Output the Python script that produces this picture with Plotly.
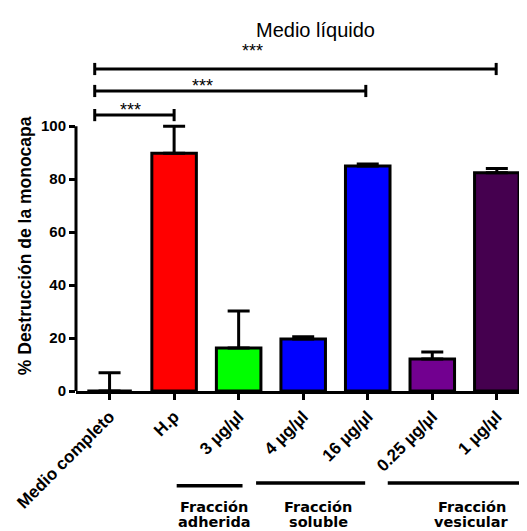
import plotly.graph_objects as go

categories = ["Medio completo", "H.p", "3 µg/µl", "4 µg/µl", "16 µg/µl", "0.25 µg/µl", "1 µg/µl"]
values = [0, 89.8, 16.2, 19.6, 85.0, 12.1, 82.4]
errors = [6.9, 10.2, 14.0, 0.9, 0.7, 2.6, 1.6]
colors = ["#FFFFFF", "#FF0000", "#00FF00", "#0000FF", "#0000FF", "#720090", "#45004F"]

# significance brackets: (start position, end position, height)
brackets = [(-0.23, 1.0, 104.2), (-0.23, 3.97, 113.3), (-0.23, 5.99, 121.6)]
star_x = [0.33, 1.44, 2.22]
star_shift = [-7, -7, 6]

group_line1 = ["Fracción", "Fracción", "Fracción"]
group_line2 = ["adherida", "soluble", "vesicular"]
group_spans = [(1.04, 2.06, -0.286), (2.27, 3.96, -0.278), (4.31, 6.45, -0.278)]
group_centers = [1.62, 3.23, 5.61]

FONT = "Arial, Liberation Sans, sans-serif"

fig = go.Figure()
fig.add_trace(go.Bar(
    x=list(range(len(categories))), y=values,
    width=0.69,
    marker=dict(color=colors, line=dict(color="black", width=3)),
    error_y=dict(type="data", array=errors, arrayminus=[0] * len(errors), symmetric=False,
                 thickness=3, width=11, color="black"),
))

shapes = []
shapes.append(dict(type="line", xref="paper", yref="y", x0=0, x1=0, y0=0, y1=100,
                   line=dict(color="black", width=3)))
for x0, x1, yv in brackets:
    shapes.append(dict(type="line", xref="x", yref="y", x0=x0, x1=x1, y0=yv, y1=yv,
                       line=dict(color="black", width=3)))
    for xe in (x0, x1):
        shapes.append(dict(type="line", xref="x", yref="y", x0=xe, x1=xe, y0=yv - 2.3, y1=yv + 2.3,
                           line=dict(color="black", width=3)))
for x0, x1, yp in group_spans:
    shapes.append(dict(type="line", xref="x", yref="paper", x0=x0, x1=x1, y0=yp, y1=yp,
                       line=dict(color="black", width=3.5)))

annotations = []
for xs, (_, _, ys), sh in zip(star_x, brackets, star_shift):
    annotations.append(dict(x=xs, y=ys, xref="x", yref="y", text="***", showarrow=False,
                            xanchor="center", yanchor="bottom", yshift=sh,
                            font=dict(family=FONT, size=18, color="black")))
for t1, t2, xc in zip(group_line1, group_line2, group_centers):
    annotations.append(dict(x=xc, y=-0.350, xref="x", yref="paper", text=t1, showarrow=False,
                            xanchor="center", yanchor="middle",
                            font=dict(family="DejaVu Sans, sans-serif", size=14.5, color="black", weight="bold")))
    annotations.append(dict(x=xc, y=-0.396, xref="x", yref="paper", text=t2, showarrow=False,
                            xanchor="center", yanchor="middle",
                            font=dict(family="DejaVu Sans, sans-serif", size=14.5, color="black", weight="bold")))
annotations.append(dict(x=0.538, y=1.09, xref="paper", yref="paper", text="Medio líquido",
                        xanchor="center", yanchor="middle",
                        showarrow=False, font=dict(family=FONT, size=20, color="black")))
annotations.append(dict(x=-0.114, y=0.438, xref="paper", yref="paper", text="% Destrucción de la monocapa",
                        textangle=-90, showarrow=False, xanchor="center", yanchor="middle",
                        font=dict(family=FONT, size=17.5, color="black", weight="bold")))

fig.update_layout(
    width=519, height=523,
    margin=dict(l=68, r=5, t=52, b=140),
    paper_bgcolor="white", plot_bgcolor="white",
    showlegend=False,
    shapes=shapes, annotations=annotations,
    xaxis=dict(range=[-0.52, 6.39], tickmode="array", tickvals=list(range(len(categories))),
               ticktext=categories, tickangle=-45, showline=True, linecolor="black", linewidth=3,
               ticks="outside", ticklen=6, tickwidth=2.5, tickcolor="black", showgrid=False,
               zeroline=False, automargin=False,
               tickfont=dict(family=FONT, size=17, color="black", weight="bold")),
    yaxis=dict(range=[0, 125], tickvals=[0, 20, 40, 60, 80, 100], showline=False,
               ticks="outside", ticklen=6, tickwidth=2.5, tickcolor="black", showgrid=False,
               zeroline=False, automargin=False,
               tickfont=dict(family=FONT, size=15, color="black", weight="bold")),
)

fig.write_html("out.html")
